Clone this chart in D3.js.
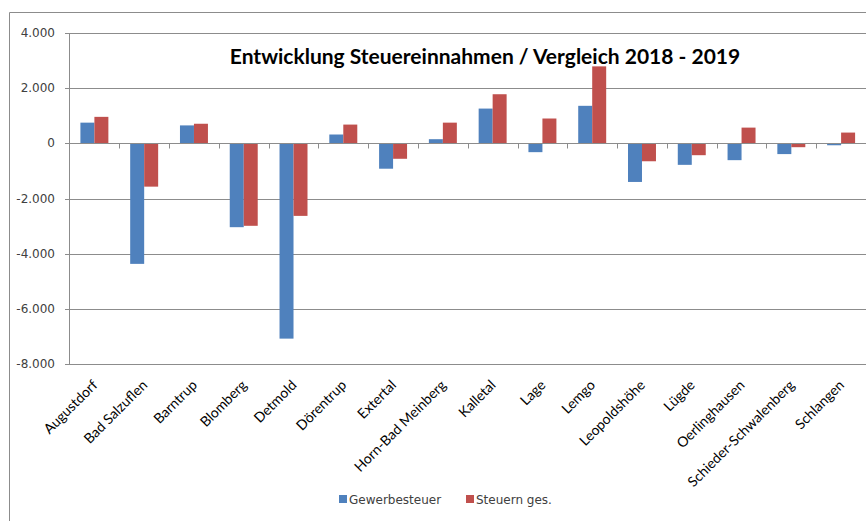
<!DOCTYPE html>
<html>
<head>
<meta charset="utf-8">
<script src="https://cdn.jsdelivr.net/npm/d3@7"></script>
<style>
  body { margin: 0; background: #fff; }
  svg { display: block; }
</style>
</head>
<body>
<div id="chart"></div>
<script>
// data
const categories = ['Augustdorf', 'Bad Salzuflen', 'Barntrup', 'Blomberg', 'Detmold', 'Dörentrup',
    'Extertal', 'Horn-Bad Meinberg', 'Kalletal', 'Lage', 'Lemgo', 'Leopoldshöhe', 'Lügde',
    'Oerlinghausen', 'Schieder-Schwalenberg', 'Schlangen'];
const seriesNames = ['Gewerbesteuer', 'Steuern ges.'];
const gewerbesteuer = [750, -4370, 650, -3040, -7080, 320, -920, 150, 1260, -320, 1360, -1400, -780, -610, -390, -70];
const steuernGes = [960, -1570, 710, -2990, -2630, 680, -560, 750, 1780, 900, 2790, -650, -430, 570, -140, 390];
const yTicks = [-8000, -6000, -4000, -2000, 0, 2000, 4000];
const colors = ['#4F81BD', '#C0504D'];

const w = 866;
const h = 521;

const svg = d3.select('#chart')
    .append('svg')
    .attr('width', w)
    .attr('height', h);

const de = d3.formatLocale({ decimal: ',', thousands: '.', grouping: [3], currency: ['', ' €'], minus: '-' });
const fmt = de.format(',.0f');

// outer chart frame
svg.append('path')
    .attr('d', 'M9.5,' + h + 'V12.5H' + w)
    .attr('fill', 'none')
    .attr('stroke', '#8c8c8c')
    .attr('stroke-width', 1);

const xScale = d3.scaleBand()
    .domain(categories)
    .range([69.5, 866]);

const xInner = d3.scaleBand()
    .domain(seriesNames)
    .range([0, xScale.bandwidth()])
    .paddingOuter(0.78);

const yScale = d3.scaleLinear()
    .domain([-8000, 4000])
    .range([364, 33]);

// gridlines
svg.append('g')
    .selectAll('line')
    .data(yTicks)
    .enter()
    .append('line')
    .attr('x1', 65)
    .attr('x2', w)
    .attr('y1', d => Math.round(yScale(d)) + 0.5)
    .attr('y2', d => Math.round(yScale(d)) + 0.5)
    .attr('stroke', '#8c8c8c')
    .attr('stroke-width', 1);

// y axis line
svg.append('line')
    .attr('x1', 69.5).attr('x2', 69.5)
    .attr('y1', Math.round(yScale(4000)) + 0.5)
    .attr('y2', Math.round(yScale(-8000)) + 0.5)
    .attr('stroke', '#8c8c8c');

// y tick labels
svg.append('g')
    .selectAll('text')
    .data(yTicks)
    .enter()
    .append('text')
    .attr('x', 55)
    .attr('y', d => yScale(d) + 4)
    .attr('text-anchor', 'end')
    .attr('font-family', 'DejaVu Sans, sans-serif')
    .attr('font-size', 12)
    .attr('fill', '#404040')
    .text(d => fmt(d));

// bars
const data = categories.map((c, i) => ({ cat: c, values: [gewerbesteuer[i], steuernGes[i]] }));

const groups = svg.append('g')
    .selectAll('g')
    .data(data)
    .enter()
    .append('g')
    .attr('transform', d => 'translate(' + xScale(d.cat) + ',0)');

groups.selectAll('rect')
    .data(d => d.values.map((v, j) => ({ name: seriesNames[j], value: v, j: j })))
    .enter()
    .append('rect')
    .attr('x', d => xInner(d.name))
    .attr('width', xInner.bandwidth())
    .attr('y', d => yScale(Math.max(0, d.value)))
    .attr('height', d => Math.abs(yScale(d.value) - yScale(0)))
    .attr('fill', d => colors[d.j]);

// zero axis with tick marks at category boundaries
const y0 = Math.round(yScale(0)) + 0.5;
svg.append('line')
    .attr('x1', 69.5).attr('x2', w)
    .attr('y1', y0).attr('y2', y0)
    .attr('stroke', '#8c8c8c');

svg.append('g')
    .selectAll('line')
    .data(categories.slice(1))
    .enter()
    .append('line')
    .attr('x1', d => Math.round(xScale(d)) + 0.5)
    .attr('x2', d => Math.round(xScale(d)) + 0.5)
    .attr('y1', y0)
    .attr('y2', y0 + 5)
    .attr('stroke', '#8c8c8c');

// category labels
svg.append('g')
    .selectAll('text')
    .data(categories)
    .enter()
    .append('text')
    .attr('transform', d => 'translate(' + (xScale(d) + xScale.bandwidth() / 2 + 4) + ',386) rotate(-45)')
    .attr('text-anchor', 'end')
    .attr('font-family', 'Lato, sans-serif')
    .attr('font-size', 14)
    .attr('fill', '#000')
    .text(d => d);

// title
svg.append('text')
    .attr('x', 485)
    .attr('y', 64)
    .attr('text-anchor', 'middle')
    .attr('font-family', 'Lato, sans-serif')
    .attr('font-weight', 'bold')
    .attr('font-size', 21)
    .attr('fill', '#000')
    .text('Entwicklung Steuereinnahmen / Vergleich 2018 - 2019');

// legend
const legendX = [339, 466];
const legend = svg.append('g')
    .selectAll('g')
    .data(seriesNames)
    .enter()
    .append('g')
    .attr('transform', (d, i) => 'translate(' + legendX[i] + ',495)');

legend.append('rect')
    .attr('width', 8)
    .attr('height', 8)
    .attr('fill', (d, i) => colors[i]);

legend.append('text')
    .attr('x', 10)
    .attr('y', 9)
    .attr('font-family', 'DejaVu Sans, sans-serif')
    .attr('font-size', 12)
    .attr('fill', '#404040')
    .text(d => d);
</script>
</body>
</html>
